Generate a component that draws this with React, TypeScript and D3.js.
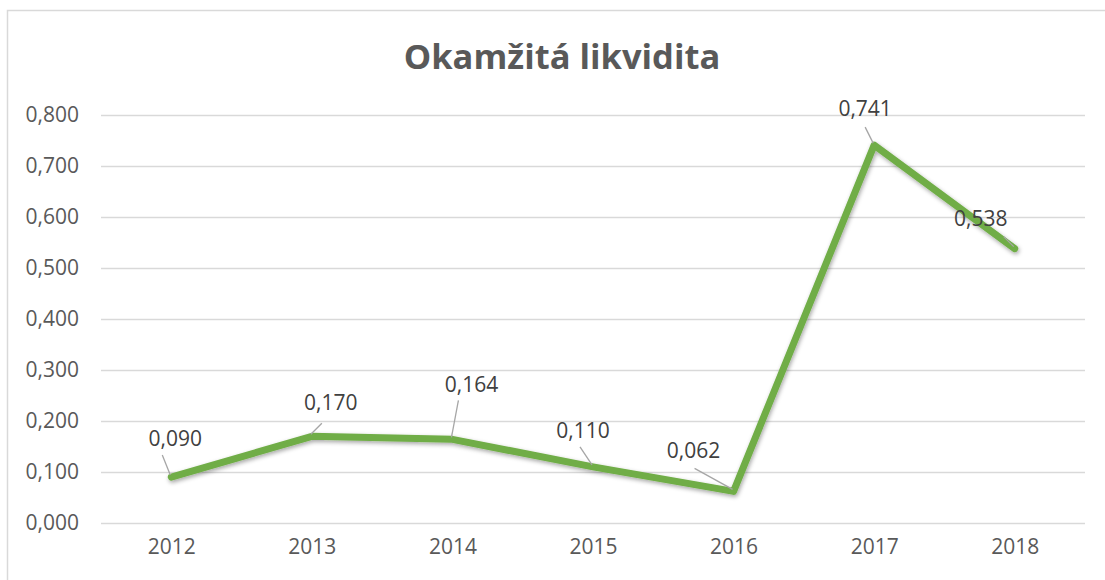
import React, { useEffect, useRef } from 'react';
import * as d3 from 'd3';

// data
const years = ['2012', '2013', '2014', '2015', '2016', '2017', '2018'];
const liquidity = [0.09, 0.17, 0.164, 0.11, 0.062, 0.741, 0.538];
const yTicks = [0, 0.1, 0.2, 0.3, 0.4, 0.5, 0.6, 0.7, 0.8];
const title = 'Okamžitá likvidita';

// label placement (offset of label centre and of leader start, relative to point)
const labelOffsets = [
  [4, -39],
  [19, -34],
  [19, -55],
  [-10, -37],
  [-40, -41],
  [-9, -37],
  [-34, -31]
];
const leaderOffsets = [
  [-9, -22],
  [10, -13],
  [6, -39],
  [-13, -20],
  [-39, -23],
  [-9, -18],
  [-11, -12]
];

const fmt = (v: number) => v.toFixed(3).replace('.', ',');

export default function App(): JSX.Element {
  const ref = useRef<SVGSVGElement>(null);

  const width = 1105;
  const height = 580;
  const marginLeft = 101;
  const marginRight = 20;
  const marginTop = 115;
  const bottomY = 523;

  useEffect(() => {
    const svg = d3.select(ref.current);
    svg.selectAll('*').remove();

    const x = d3
      .scalePoint<string>()
      .domain(years)
      .range([marginLeft, width - marginRight])
      .padding(0.5);
    const y = d3.scaleLinear().domain([0, 0.8]).range([bottomY, marginTop]);

    const defs = svg.append('defs');
    const f = defs
      .append('filter')
      .attr('id', 'shadow')
      .attr('x', '-10%')
      .attr('y', '-10%')
      .attr('width', '120%')
      .attr('height', '130%');
    f.append('feDropShadow')
      .attr('dx', 1)
      .attr('dy', 2)
      .attr('stdDeviation', 2)
      .attr('flood-color', '#000')
      .attr('flood-opacity', 0.35);

    // chart frame
    svg
      .append('rect')
      .attr('x', 7.5)
      .attr('y', 10.5)
      .attr('width', 1110)
      .attr('height', 600)
      .attr('fill', 'white')
      .attr('stroke', '#d9d9d9')
      .attr('stroke-width', 1.5);

    // title
    svg
      .append('text')
      .attr('x', 562)
      .attr('y', 69)
      .attr('text-anchor', 'middle')
      .attr('font-family', '"Open Sans", sans-serif')
      .attr('font-weight', 700)
      .attr('font-size', 34.5)
      .attr('fill', '#595959')
      .text(title);

    // grid + y axis
    const yAxis = d3
      .axisLeft(y)
      .tickValues(yTicks)
      .tickSize(-(width - marginRight - marginLeft))
      .tickPadding(22)
      .tickFormat((d) => fmt(d as number));
    const gy = svg
      .append('g')
      .attr('transform', `translate(${marginLeft},0)`)
      .call(yAxis);
    gy.select('.domain').remove();
    gy.selectAll('.tick line').attr('stroke', '#d9d9d9').attr('stroke-width', 1.5);
    gy.selectAll('.tick text')
      .attr('fill', '#595959')
      .attr('font-family', '"Open Sans", sans-serif')
      .attr('font-size', 21);

    // x axis
    const xAxis = d3.axisBottom(x).tickSize(0).tickPadding(16);
    const gx = svg
      .append('g')
      .attr('transform', `translate(0,${bottomY})`)
      .call(xAxis);
    gx.select('.domain').remove();
    gx.selectAll('.tick text')
      .attr('fill', '#595959')
      .attr('font-family', '"Open Sans", sans-serif')
      .attr('font-size', 21);

    // line
    const line = d3
      .line<number>()
      .x((_, i) => x(years[i]) as number)
      .y((d) => y(d));
    svg
      .append('path')
      .datum(liquidity)
      .attr('d', line)
      .attr('fill', 'none')
      .attr('stroke', '#70ad47')
      .attr('stroke-width', 7)
      .attr('stroke-linejoin', 'round')
      .attr('stroke-linecap', 'round')
      .attr('filter', 'url(#shadow)');

    // leader lines
    svg
      .append('g')
      .selectAll('line')
      .data(liquidity)
      .join('line')
      .attr('x1', (_, i) => (x(years[i]) as number) + leaderOffsets[i][0])
      .attr('y1', (d, i) => y(d) + leaderOffsets[i][1])
      .attr('x2', (_, i) => (x(years[i]) as number) - 1)
      .attr('y2', (d) => y(d) - 2)
      .attr('stroke', '#a6a6a6')
      .attr('stroke-width', 1.3);

    // data labels
    svg
      .append('g')
      .selectAll('text')
      .data(liquidity)
      .join('text')
      .attr('x', (_, i) => (x(years[i]) as number) + labelOffsets[i][0])
      .attr('y', (d, i) => y(d) + labelOffsets[i][1])
      .attr('text-anchor', 'middle')
      .attr('dominant-baseline', 'central')
      .attr('fill', '#404040')
      .attr('font-family', '"Open Sans", sans-serif')
      .attr('font-size', 21)
      .text((d) => fmt(d));
  }, []);

  return (
    <svg
      ref={ref}
      width={width}
      height={height}
      style={{ position: 'absolute', left: 0, top: 0, background: 'white' }}
    />
  );
}
